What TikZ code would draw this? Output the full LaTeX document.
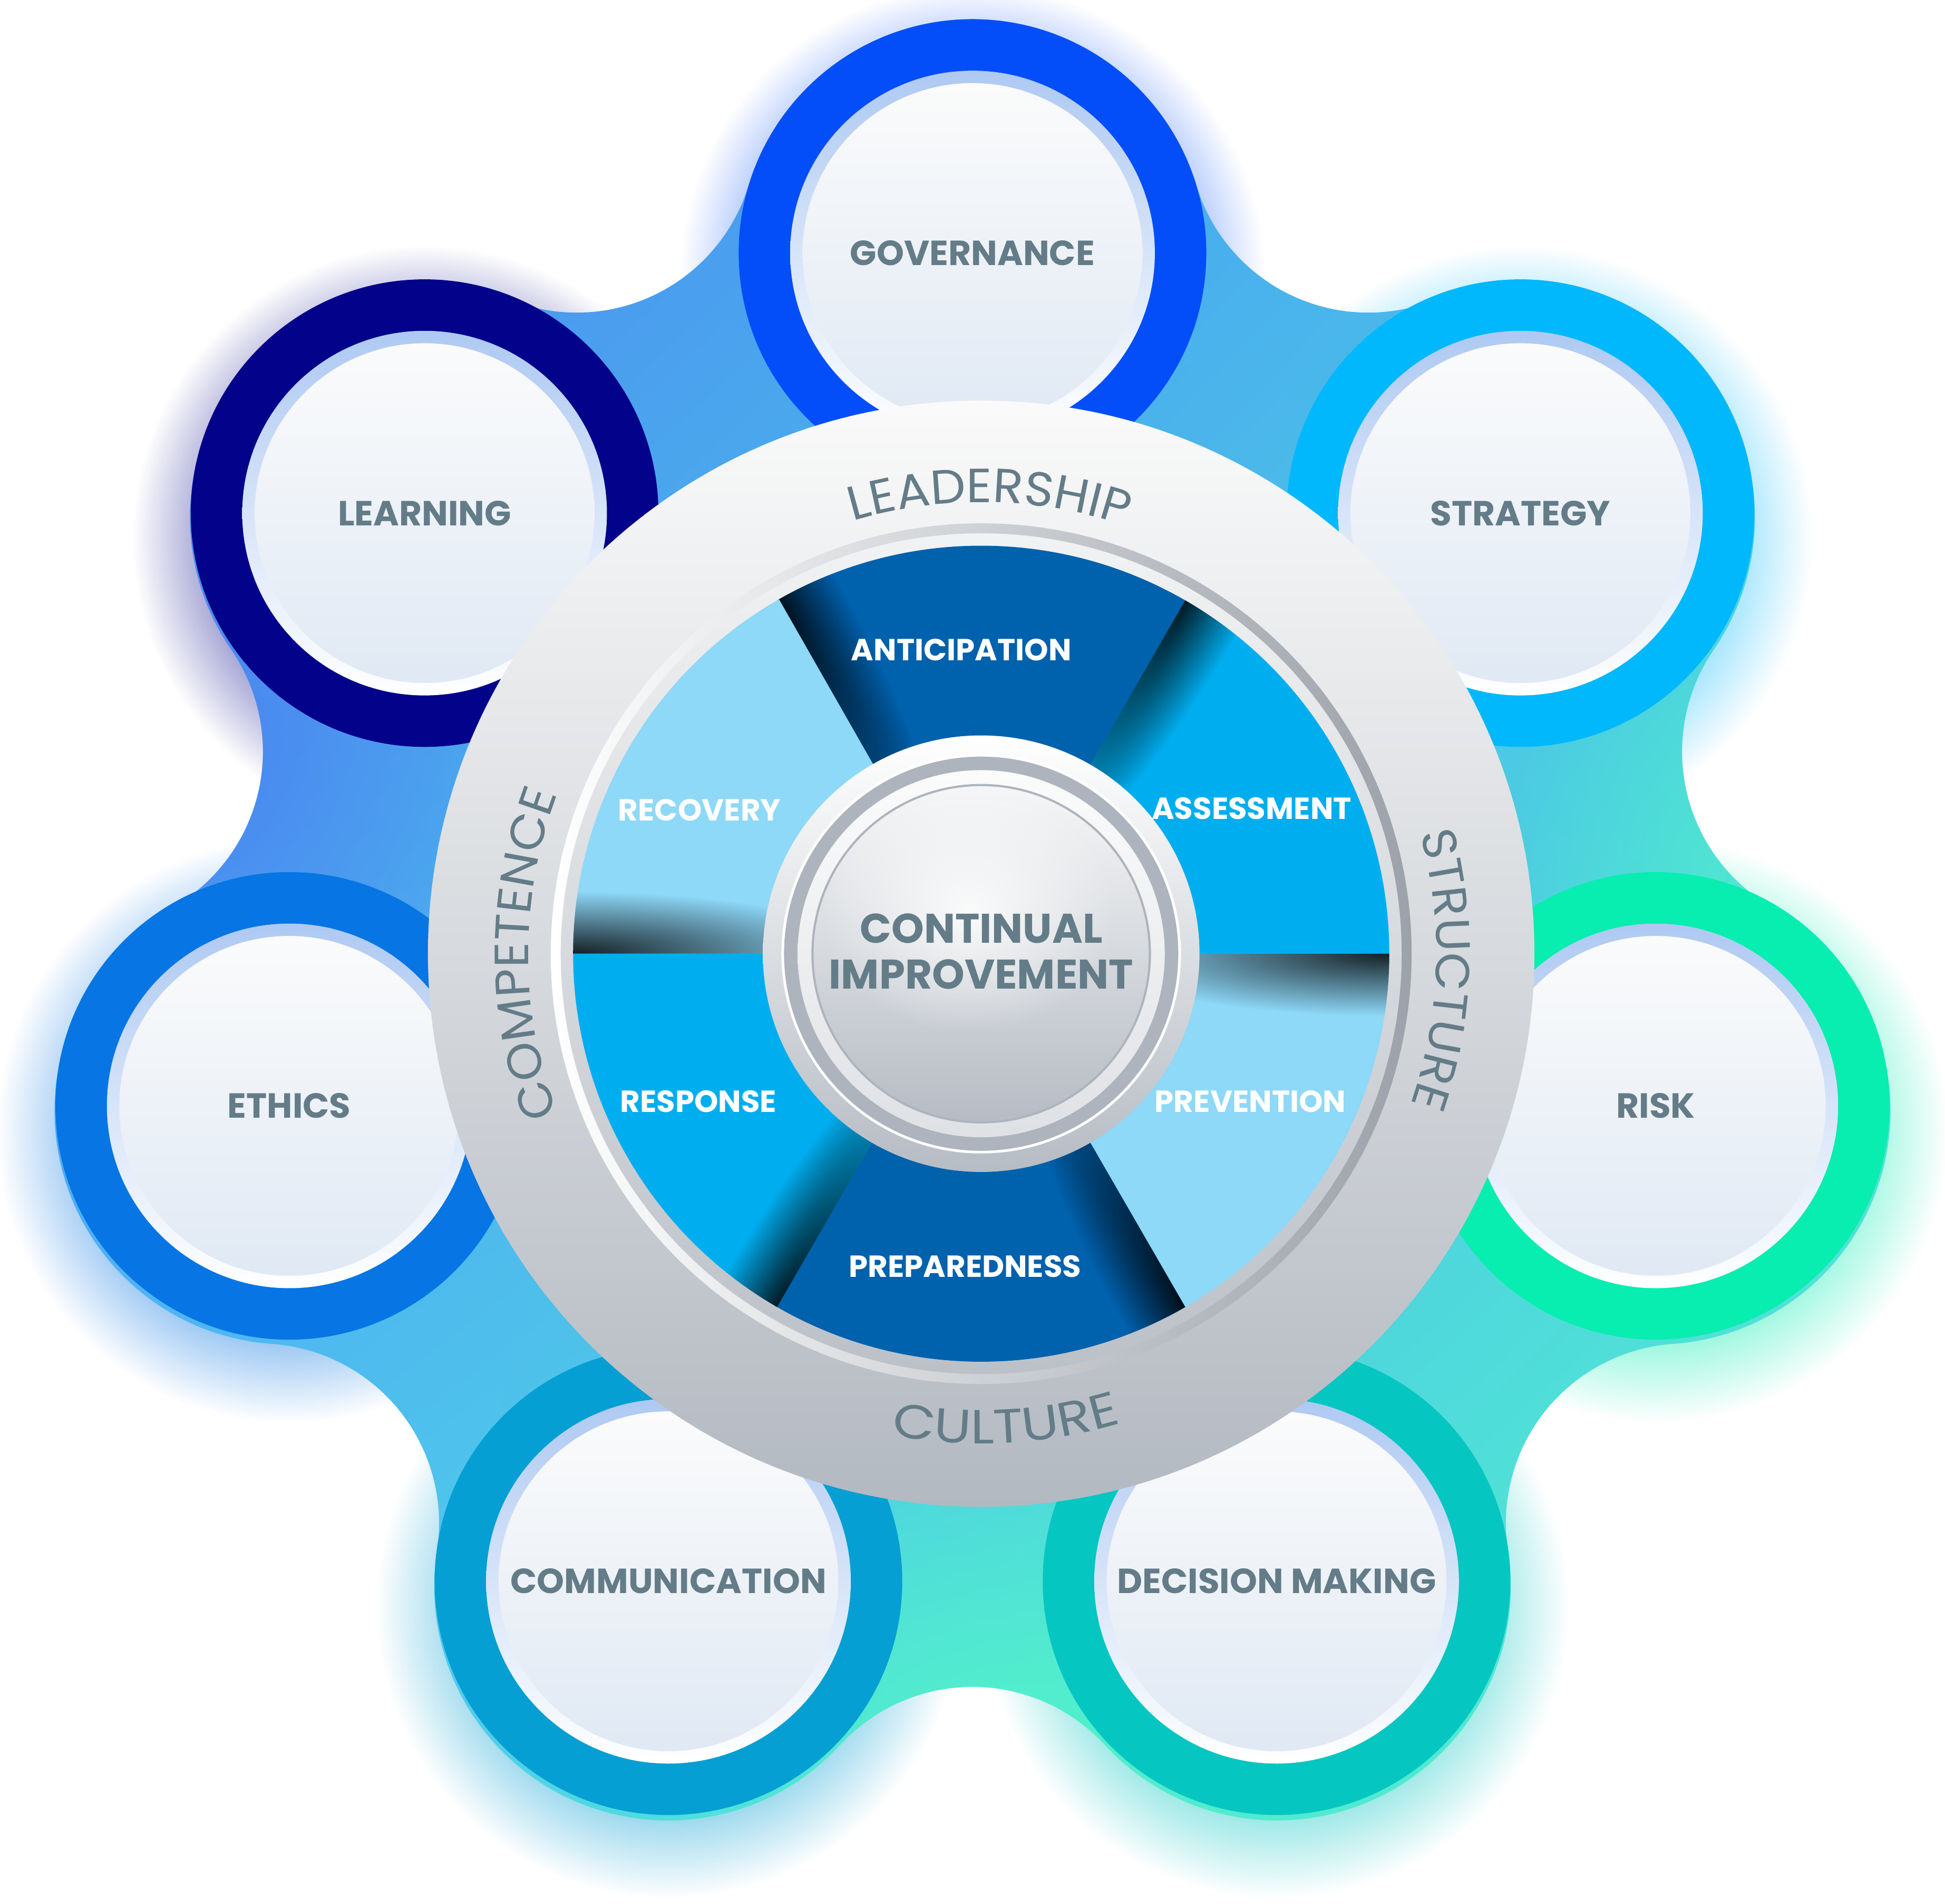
\documentclass[tikz,border=0pt]{standalone}
\usepackage{fontspec}
\setmainfont{Poppins}
\newfontfamily\ringfont{Poppins}[FakeStretch=1.04]
\newfontfamily\ringwide{Poppins}[FakeStretch=1.15]
\usepackage{tikz}
\usetikzlibrary{positioning,fadings,shadings,decorations.text}
\definecolor{labelgray}{HTML}{637C88}
\definecolor{govblue}{HTML}{034EF8}
\definecolor{strblue}{HTML}{00B8FB}
\definecolor{riskgreen}{HTML}{08EDB0}
\definecolor{decteal}{HTML}{06C6C1}
\definecolor{comblue}{HTML}{059FD3}
\definecolor{ethblue}{HTML}{0775E3}
\definecolor{lrnnavy}{HTML}{02038A}
\definecolor{wheeldark}{HTML}{0061AD}
\definecolor{wheelmid}{HTML}{00AEEF}
\definecolor{wheellight}{HTML}{8ED8F8}
\definecolor{ringtop}{HTML}{FAFAFA}
\definecolor{ringbot}{HTML}{B3B9C1}
\definecolor{groove}{HTML}{AEB4BD}
\definecolor{rimblue}{HTML}{AEC9F2}
\definecolor{disktop}{HTML}{FBFBFB}
\definecolor{diskbot}{HTML}{E0E9F4}
\definecolor{blobul}{HTML}{4A7EF0}
\definecolor{blobur}{HTML}{48C0F0}
\definecolor{blobll}{HTML}{4FC6F5}
\definecolor{bloblr}{HTML}{52F5C8}
\definecolor{blobmint}{HTML}{52F4C8}
\definecolor{btnbot}{HTML}{B6BCC4}
\pgfdeclareradialshading{glowshade}{\pgfpoint{0bp}{0bp}}{color(0bp)=(white); color(18bp)=(white); color(25bp)=(black); color(50bp)=(black)}
\pgfdeclarefading{glowfade}{\pgfuseshading{glowshade}}
\tikzfading[name=cornerfade, inner color=transparent!0, outer color=transparent!100]
\tikzset{
  satlabel/.style={font=\fontsize{8}{9}\selectfont\bfseries,text=labelgray,align=center},
  wheellabel/.style={font=\fontsize{7}{8}\selectfont\bfseries,text=white},
  hublabel/.style={font=\fontsize{9.5}{10.5}\selectfont\bfseries,text=labelgray,align=center},
  glow/.style={fill=#1,opacity=0.4,path fading=glowfade},
  ringtext/.style 2 args={decorate,decoration={text along path,text align=center,text color=labelgray,text={|#1\fontsize{11}{13}\selectfont|#2}}}
}

\begin{document}
\begin{tikzpicture}
\fill[white] (-7.91,-7.66) rectangle (7.77,7.69);
\useasboundingbox (-7.91,-7.66) rectangle (7.77,7.69);
\coordinate (hub) at (-0.07,0.03);
\foreach \nm/\ang/\dist/\col in {gov/90/5.62/govblue,str/38.571/5.65/strblue,risk/-12.857/5.65/riskgreen,dec/-64.286/5.65/decteal,com/-115.714/5.65/comblue,eth/-167.143/5.65/ethblue,lrn/141.429/5.65/lrnnavy} {
  \coordinate (\nm) at ([shift={(\ang:\dist)}]hub);
  \fill[glow=\col] ([yshift=-0.2cm]\nm) circle (2.35);
}
\shade[save path=\blobpath,upper left=blobul,upper right=blobur,lower left=blobll,lower right=bloblr]
  ([shift={(163.1:1.885)}]gov)
  \foreach \a in {90,38.571,-12.857,-64.286,-115.714,-167.143,-218.571} {
    arc[start angle=\a+73.1,end angle=\a-73.1,radius=1.885]
    arc[start angle=\a-25.714+132.6,end angle=\a-25.714+227.4,radius=1.45]
  } -- cycle;
\begin{scope}
  \clip[use path=\blobpath];
  \fill[blobmint,opacity=0.9,path fading=cornerfade] (0.3,-6.4) ellipse [x radius=4.4,y radius=2.8];
  \fill[blobmint,opacity=0.7,path fading=cornerfade] (6.6,0.6) ellipse [x radius=2.4,y radius=3.0];
  \fill[blobul,opacity=0.8,path fading=cornerfade] (-6.4,1.7) ellipse [x radius=2.6,y radius=3.2];
\end{scope}
\foreach \nm/\col/\txt in {gov/govblue/GOVERNANCE,str/strblue/STRATEGY,risk/riskgreen/RISK,dec/decteal/DECISION MAKING,com/comblue/COMMUNICATION,eth/ethblue/ETHICS,lrn/lrnnavy/LEARNING} {
  \fill[\col] (\nm) circle (1.885);
  \shade[top color=rimblue,bottom color=white] (\nm) circle (1.47);
  \shade[top color=disktop,bottom color=diskbot] (\nm) circle (1.37);
  \node[satlabel] (\nm-t) at (\nm) {\txt};
}
\shade[top color=ringtop,bottom color=ringbot] (0,0) circle (4.46);
\shade[left color=white,right color=groove!90!black,even odd rule] (0,0) circle (3.47) (0,0) circle (3.39);
\foreach \a/\col in {120/wheeldark,60/wheelmid,0/wheellight,-60/wheeldark,-120/wheelmid,180/wheellight} {
  \begin{scope}[transform canvas={rotate=\a}]
    \fill[\col] (0,0) -- (0:3.29) arc[start angle=0,end angle=-60.3,radius=3.29] -- cycle;
    \begin{scope}
      \clip (0,0) -- (0:3.29) arc[start angle=0,end angle=-60,radius=3.29] -- cycle;
      \fill[black,opacity=0.85,path fading=cornerfade] (3.29,0) ellipse [x radius=2.4,y radius=0.5];
    \end{scope}
  \end{scope}
}
\node[wheellabel] (ant) at (-0.16,2.45) {ANTICIPATION};
\node[wheellabel] (ass) at (2.18,1.17) {ASSESSMENT};
\node[wheellabel] (pre) at (2.17,-1.19) {PREVENTION};
\node[wheellabel] (prp) at (-0.13,-2.52) {PREPAREDNESS};
\node[wheellabel] (res) at (-2.28,-1.19) {RESPONSE};
\node[wheellabel] (rec) at (-2.27,1.16) {RECOVERY};
\shade[top color=white,bottom color=btnbot] (0,0) circle (1.76);
\fill[groove] (0,0) circle (1.60);
\draw[white,line width=0.6pt] (0,0) circle (1.60);
\shade[top color=white!95!groove,bottom color=white!60!groove] (0,0) circle (1.48);
\shade[top color=white!88!groove,bottom color=btnbot] (0,0) circle (1.36);
\fill[white,opacity=0.85,path fading=cornerfade] (-0.1,0.35) ellipse [x radius=1.2,y radius=1.0];
\draw[groove,line width=0.5pt] (0,0) circle (1.36);
\node[hublabel] (ci) at (0,0.02) {CONTINUAL\\IMPROVEMENT};
\path[ringtext={\ringfont}{LEADERSHIP}] (129:3.64) arc[start angle=129,end angle=49,radius=3.64];
\path[ringtext={\ringfont}{STRUCTURE}] (48:3.67) arc[start angle=48,end angle=-52,radius=3.67];
\path[ringtext={\ringwide}{CULTURE}] (-137:3.95) arc[start angle=-137,end angle=-37,radius=3.95];
\path[ringtext={\ringfont}{COMPETENCE}] (230:3.65) arc[start angle=230,end angle=130,radius=3.65];
\end{tikzpicture}
\end{document}
